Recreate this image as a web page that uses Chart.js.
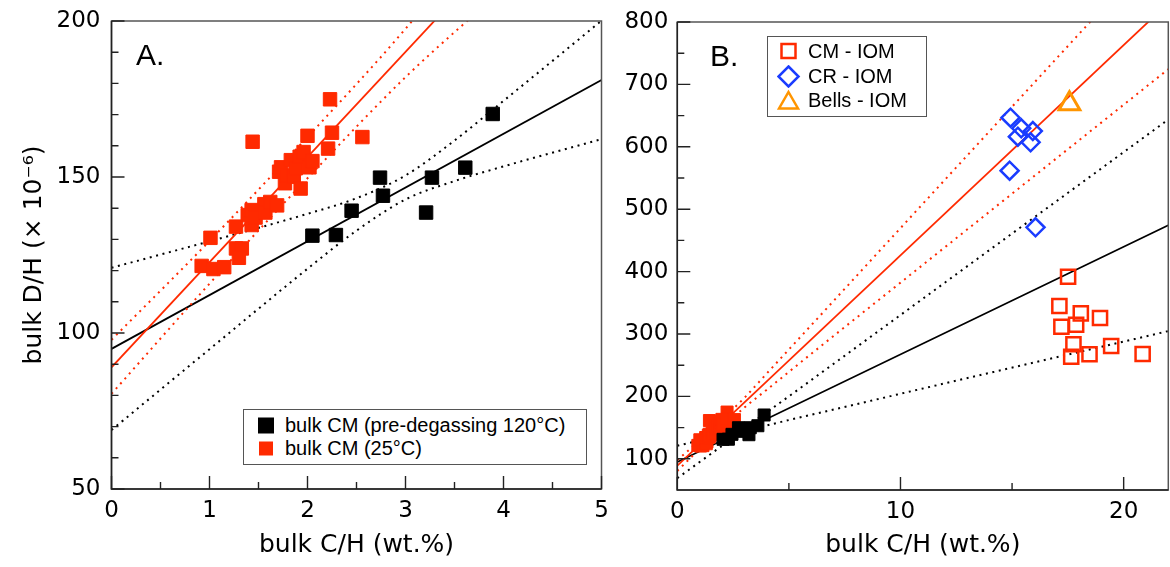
<!DOCTYPE html>
<html>
<head>
<meta charset="utf-8">
<script src="https://cdn.jsdelivr.net/npm/chart.js@4.4.1/dist/chart.umd.min.js"></script>
<style>
  html, body { margin: 0; padding: 0; background: #fff; }
  #wrap { position: relative; width: 1170px; height: 567px; overflow: hidden; }
  canvas { position: absolute; top: 0; }
  #chartA { left: 0; }
  #chartB { left: 605px; }
  .tag { position: absolute; font: 30px "Liberation Sans", Arial, sans-serif; line-height: 1; color: #000; }
  .legend { position: absolute; background: #fff; border: 1.5px solid #555; box-sizing: border-box;
            font: 20px "Liberation Sans", Arial, sans-serif; color: #000; }
  .legend .row { position: absolute; left: 0; width: 100%; height: 23px; }
  .legend svg { position: absolute; top: 0; }
  .legend span { position: absolute; line-height: 23px; white-space: nowrap; }
</style>
</head>
<body>
<div id="wrap">
  <canvas id="chartA" width="620" height="567"></canvas>
  <canvas id="chartB" width="565" height="567"></canvas>

  <div class="tag" style="left:136px; top:40px;">A.</div>
  <div class="tag" style="left:710px; top:41px;">B.</div>

  <div class="legend" style="left:243px; top:409px; width:344px; height:56px;">
    <div class="row" style="top:4px;">
      <svg width="24" height="23" style="left:10px;"><rect x="4" y="3.5" width="16" height="16" fill="#000"/></svg>
      <span style="left:41px;">bulk CM (pre-degassing 120°C)</span>
    </div>
    <div class="row" style="top:27px;">
      <svg width="24" height="23" style="left:10px;"><rect x="5" y="4.5" width="14" height="14" fill="#ff2a00"/></svg>
      <span style="left:41px;">bulk CM (25°C)</span>
    </div>
  </div>

  <div class="legend" style="left:767px; top:36px; width:160px; height:81px;">
    <div class="row" style="top:3px;">
      <svg width="24" height="23" style="left:9px;"><rect x="4.5" y="4" width="14" height="14" fill="none" stroke="#ff2a00" stroke-width="2.5"/></svg>
      <span style="left:40px;">CM - IOM</span>
    </div>
    <div class="row" style="top:28px;">
      <svg width="24" height="23" style="left:9px;"><polygon points="11.5,1.5 21.5,11.5 11.5,21.5 1.5,11.5" fill="none" stroke="#1a3cff" stroke-width="2.5"/></svg>
      <span style="left:40px;">CR - IOM</span>
    </div>
    <div class="row" style="top:52px;">
      <svg width="24" height="23" style="left:9px;"><polygon points="11.5,3 21,19.5 2,19.5" fill="none" stroke="#ff9500" stroke-width="2.5"/></svg>
      <span style="left:40px;">Bells - IOM</span>
    </div>
  </div>
</div>

<script>
// bulk CM, pre-degassing 120°C (black squares)
const cmHotX = [2.05, 2.29, 2.45, 2.74, 2.77, 3.21, 3.27, 3.61, 3.89];
const cmHotY = [131.2, 131.4, 139.2, 149.8, 144.0, 138.6, 149.8, 153.0, 170.2];

// bulk CM, 25°C (red squares)
const cm25X = [0.92, 1.04, 1.15, 1.01, 1.27, 1.33, 1.30, 1.27, 1.43, 1.39, 1.43, 1.47, 1.56, 1.57, 1.62, 1.69, 1.44,
               1.71, 1.73, 1.77, 1.79, 1.83, 1.86, 1.88, 1.92, 1.93, 1.96, 2.00, 2.02, 2.05, 2.21, 2.23, 2.25, 2.56];
const cm25Y = [121.5, 120.5, 121.1, 130.5, 127.1, 127.1, 124.1, 134.1, 134.6, 137.8, 139.4, 137.0, 141.3, 138.6, 142.0, 140.9, 161.3,
               151.7, 153.1, 148.0, 150.5, 155.4, 150.1, 152.8, 156.5, 146.3, 158.0, 163.2, 153.1, 155.1, 159.1, 174.9, 164.2, 162.8];

// IOM (panel B only)
const cmIomX = [17.51, 17.12, 18.08, 18.94, 17.21, 17.87, 17.75, 19.44, 17.65, 18.47, 20.85];
const cmIomY = [391.8, 344.9, 333.1, 325.6, 311.7, 314.9, 283.5, 280.8, 263.6, 267.5, 268.0];
const crIomX = [14.93, 15.41, 15.93, 15.26, 15.83, 14.89, 16.05];
const crIomY = [646.6, 629.6, 625.3, 616.2, 607.2, 561.7, 471.0];
const bellsX = [17.57];
const bellsY = [669];

// regression lines and bands
const blackLineX = [0, 22];
const blackLineY = [94.9, 474.2];
const blackBandX = [0, 1, 2, 2.5, 3, 3.5, 4, 5, 6, 10, 14, 18, 22];
const blackUpY   = [120.9, 129.4, 138.2, 143.2, 150.5, 161.7, 174.4, 200.1, 226.1, 330.4, 434.9, 539.2, 643.7];
const blackLowY  = [68.9, 94.8, 120.6, 132.8, 142.8, 148.7, 153.4, 162.1, 170.5, 204.2, 237.7, 271.2, 304.7];

const redLineX = [0, 22];
const redLineY = [89.0, 830.4];
const redBandX = [0, 1, 2, 3, 4, 6, 10, 14, 18, 22];
const redUpY   = [97.8, 129.5, 162.8, 197.5, 236.4, 314.0, 469.7, 625.3, 780.8, 936.4];
const redLowY  = [80.5, 115.8, 149.6, 182.0, 210.4, 268.2, 382.3, 496.3, 610.4, 724.4];

// ticks
const aXMajor = [0, 1, 2, 3, 4, 5];
const aXMinor = [0.5, 1.5, 2.5, 3.5, 4.5];
const aYMajor = [50, 100, 150, 200];
const aYMinor = [60, 70, 80, 90, 110, 120, 130, 140, 160, 170, 180, 190];
const bXMajor = [0, 10, 20];
const bXMinor = [5, 15];
const bYMajor = [100, 200, 300, 400, 500, 600, 700, 800];
const bYMinor = [150, 250, 350, 450, 550, 650, 750];

const RED = '#ff2a00';
const BLUE = '#1a3cff';
const ORANGE = '#ff9500';

const tickFont = { family: 'DejaVu Sans', size: 23 };
const titleFont = { family: 'DejaVu Sans', size: 25 };

function pts(xs, ys) {
    return xs.map((x, i) => ({ x: x, y: ys[i] }));
}

function lineSet(xs, ys, color, dotted) {
    return {
        data: pts(xs, ys),
        showLine: true,
        borderColor: color,
        borderWidth: dotted ? 2 : 1.8,
        borderDash: dotted ? [2, 4.6] : [],
        cubicInterpolationMode: 'monotone',
        pointRadius: 0,
        fill: false
    };
}

function markerSet(xs, ys, style, radius, fillColor, strokeColor, strokeWidth) {
    return {
        data: pts(xs, ys),
        pointStyle: style,
        pointRadius: radius,
        pointHoverRadius: radius,
        backgroundColor: fillColor,
        borderColor: strokeColor,
        pointBorderWidth: strokeWidth,
        borderWidth: strokeWidth
    };
}

// frame + inward tick marks, drawn from the scales
const frameTicks = {
    id: 'frameTicks',
    afterDatasetsDraw(chart, args, opts) {
        const { ctx, chartArea: a, scales } = chart;
        const sx = scales.x, sy = scales.y;
        ctx.save();
        ctx.lineWidth = 1.5;
        ctx.strokeStyle = '#555';
        ctx.strokeRect(a.left, a.top, a.right - a.left, a.bottom - a.top);
        ctx.strokeStyle = '#222';
        ctx.beginPath();
        ctx.moveTo(a.left, a.top);
        ctx.lineTo(a.left, a.bottom);
        ctx.lineTo(a.right, a.bottom);
        ctx.stroke();
        ctx.lineWidth = 1.4;
        ctx.beginPath();
        opts.xMajor.forEach(v => { const p = sx.getPixelForValue(v); ctx.moveTo(p, a.bottom); ctx.lineTo(p, a.bottom - 13); });
        opts.xMinor.forEach(v => { const p = sx.getPixelForValue(v); ctx.moveTo(p, a.bottom); ctx.lineTo(p, a.bottom - 7); });
        opts.yMajor.forEach(v => { const p = sy.getPixelForValue(v); ctx.moveTo(a.left, p); ctx.lineTo(a.left + 13, p); });
        opts.yMinor.forEach(v => { const p = sy.getPixelForValue(v); ctx.moveTo(a.left, p); ctx.lineTo(a.left + 7, p); });
        ctx.stroke();
        ctx.restore();
    }
};

// keep the plot box exactly where the layout padding puts it
function noEdgePadding(s) {
    s.paddingLeft = 0;
    s.paddingRight = 0;
    s.paddingTop = 0;
    s.paddingBottom = 0;
}

function makeOptions(cfg) {
    return {
        responsive: false,
        animation: false,
        events: [],
        layout: { autoPadding: false, padding: { top: cfg.top, right: cfg.right, bottom: 0, left: 0 } },
        plugins: {
            legend: { display: false },
            tooltip: { enabled: false },
            frameTicks: { xMajor: cfg.xMajor, xMinor: cfg.xMinor, yMajor: cfg.yMajor, yMinor: cfg.yMinor }
        },
        scales: {
            x: {
                type: 'linear',
                min: cfg.xMin, max: cfg.xMax,
                afterBuildTicks: s => { s.ticks = cfg.xMajor.map(v => ({ value: v })); },
                afterFit: s => { s.height = cfg.xHeight; noEdgePadding(s); },
                grid: { display: false, drawTicks: false },
                border: { display: false },
                ticks: { font: tickFont, color: '#000', padding: 8, maxRotation: 0, autoSkip: false },
                title: { display: true, text: 'bulk C/H (wt.%)', font: titleFont, color: '#000', padding: { top: 0, bottom: 7 } }
            },
            y: {
                type: 'linear',
                min: cfg.yMin, max: cfg.yMax,
                afterBuildTicks: s => { s.ticks = cfg.yMajor.map(v => ({ value: v })); },
                afterFit: s => { s.width = cfg.yWidth; noEdgePadding(s); },
                grid: { display: false, drawTicks: false },
                border: { display: false },
                ticks: { font: tickFont, color: '#000', padding: cfg.yPad, autoSkip: false },
                title: { display: !!cfg.yTitle, text: cfg.yTitle || '', font: titleFont, color: '#000', padding: { top: 19, bottom: 0 } }
            }
        }
    };
}

new Chart(document.getElementById('chartA'), {
    type: 'scatter',
    data: {
        datasets: [
            markerSet(cmHotX, cmHotY, 'rect', 9.5, '#000', '#000', 1),
            markerSet(cm25X, cm25Y, 'rect', 9.5, RED, RED, 1),
            lineSet(redLineX, redLineY, RED, false),
            lineSet(redBandX, redUpY, RED, true),
            lineSet(redBandX, redLowY, RED, true),
            lineSet(blackLineX, blackLineY, '#000', false),
            lineSet(blackBandX, blackUpY, '#000', true),
            lineSet(blackBandX, blackLowY, '#000', true)
        ]
    },
    options: makeOptions({
        top: 21, right: 18.5, xHeight: 78, yWidth: 111.5, yPad: 11,
        xMin: 0, xMax: 5, yMin: 50, yMax: 200,
        xMajor: aXMajor, xMinor: aXMinor, yMajor: aYMajor, yMinor: aYMinor,
        yTitle: 'bulk D/H (× 10⁻⁶)'
    }),
    plugins: [frameTicks]
});

new Chart(document.getElementById('chartB'), {
    type: 'scatter',
    data: {
        datasets: [
            markerSet(bellsX, bellsY, 'triangle', 12, 'rgba(0,0,0,0)', ORANGE, 3),
            markerSet(crIomX, crIomY, 'rectRot', 9, 'rgba(0,0,0,0)', BLUE, 2.5),
            markerSet(cmIomX, cmIomY, 'rect', 10, 'rgba(0,0,0,0)', RED, 2.5),
            markerSet(cmHotX, cmHotY, 'rect', 8.5, '#000', '#000', 1),
            markerSet(cm25X, cm25Y, 'rect', 8.5, RED, RED, 1),
            lineSet(redLineX, redLineY, RED, false),
            lineSet(redBandX, redUpY, RED, true),
            lineSet(redBandX, redLowY, RED, true),
            lineSet(blackLineX, blackLineY, '#000', false),
            lineSet(blackBandX, blackUpY, '#000', true),
            lineSet(blackBandX, blackLowY, '#000', true)
        ]
    },
    options: makeOptions({
        top: 22, right: 1.7, xHeight: 77, yWidth: 72.3, yPad: 9,
        xMin: 0, xMax: 22, yMin: 50, yMax: 800,
        xMajor: bXMajor, xMinor: bXMinor, yMajor: bYMajor, yMinor: bYMinor,
        yTitle: ''
    }),
    plugins: [frameTicks]
});
</script>
</body>
</html>
